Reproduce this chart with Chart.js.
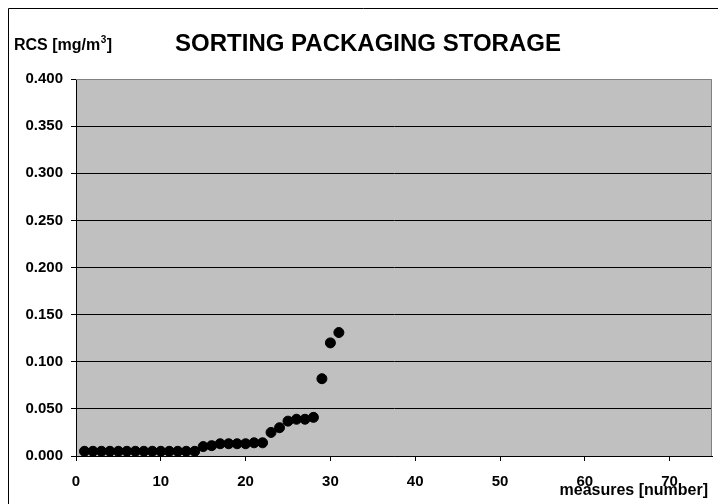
<!DOCTYPE html>
<html>
<head>
<meta charset="utf-8">
<script src="https://cdn.jsdelivr.net/npm/chart.js@4.4.1/dist/chart.umd.min.js"></script>
<style>
  html, body { margin: 0; padding: 0; background: #fff; }
  #wrap { position: relative; width: 718px; height: 504px; overflow: hidden; }
</style>
</head>
<body>
<div id="wrap">
  <canvas id="myChart" width="718" height="504"></canvas>
</div>
<script>
const measureNo = [1, 2, 3, 4, 5, 6, 7, 8, 9, 10, 11, 12, 13, 14, 15, 16, 17, 18, 19, 20, 21, 22, 23, 24, 25, 26, 27, 28, 29, 30, 31];
const rcsValues = [0.005, 0.005, 0.005, 0.005, 0.005, 0.005, 0.005, 0.005, 0.005, 0.005, 0.005, 0.005, 0.005, 0.005,
  0.010, 0.011, 0.013, 0.013, 0.013, 0.013, 0.014, 0.014, 0.025, 0.030, 0.037, 0.039, 0.039, 0.041, 0.082, 0.120, 0.131];
const chartTitle = 'SORTING PACKAGING STORAGE';
const yTitle = ['RCS [mg/m', '3', ']'];
const xTitle = 'measures [number]';

const FONT = "Arial, 'Liberation Sans', sans-serif";

// grey plot box + outer frame + texts
const decor = {
  id: 'decor',
  beforeDraw(chart) {
    const { ctx, chartArea: a } = chart;
    ctx.save();
    ctx.fillStyle = '#fff';
    ctx.fillRect(0, 0, chart.width, chart.height);
    ctx.fillStyle = '#c0c0c0';
    ctx.fillRect(a.left, a.top, a.right - a.left, a.bottom - a.top);
    ctx.restore();
  },
  beforeDatasetsDraw(chart) {
    const { ctx, chartArea: a } = chart;
    ctx.save();
    ctx.strokeStyle = '#808080';
    ctx.lineWidth = 1;
    ctx.beginPath();
    ctx.moveTo(a.left, a.top + 0.5);
    ctx.lineTo(a.right - 0.5, a.top + 0.5);
    ctx.lineTo(a.right - 0.5, a.bottom);
    ctx.stroke();
    ctx.restore();
  },
  afterDraw(chart) {
    const { ctx } = chart;
    ctx.save();
    ctx.strokeStyle = '#000';
    ctx.lineWidth = 1;
    ctx.beginPath();
    ctx.moveTo(8.5, chart.height);
    ctx.lineTo(8.5, 8.5);
    ctx.lineTo(chart.width, 8.5);
    ctx.stroke();

    ctx.fillStyle = '#000';
    ctx.textBaseline = 'alphabetic';
    ctx.font = 'bold 24px ' + FONT;
    ctx.textAlign = 'center';
    ctx.fillText(chartTitle, 368, 51);

    // y title with superscript
    ctx.textAlign = 'left';
    let x = 14;
    ctx.font = 'bold 16px ' + FONT;
    ctx.fillText(yTitle[0], x, 50);
    x += ctx.measureText(yTitle[0]).width + 0.5;
    ctx.font = 'bold 10px ' + FONT;
    ctx.fillText(yTitle[1], x, 43);
    x += ctx.measureText(yTitle[1]).width + 0.5;
    ctx.font = 'bold 16px ' + FONT;
    ctx.fillText(yTitle[2], x, 50);

    ctx.font = 'bold 16px ' + FONT;
    ctx.textAlign = 'right';
    ctx.fillText(xTitle, 708, 495);
    ctx.restore();
  }
};

const canvas = document.getElementById('myChart');
new Chart(canvas, {
  type: 'scatter',
  data: {
    datasets: [{
      data: measureNo.map((m, i) => ({ x: m, y: rcsValues[i] })),
      backgroundColor: '#000',
      borderColor: '#000',
      borderWidth: 1,
      pointRadius: 5,
      pointHoverRadius: 5
    }]
  },
  options: {
    responsive: false,
    animation: false,
    devicePixelRatio: 1,
    layout: { padding: { left: 0, top: 79, right: 3, bottom: 0 } },
    plugins: { legend: { display: false }, tooltip: { enabled: false } },
    scales: {
      x: {
        type: 'linear',
        min: 0,
        max: 75,
        afterFit(scale) { scale.height = 48; },
        ticks: {
          stepSize: 10,
          includeBounds: false,
          maxRotation: 0,
          padding: 12,
          color: '#000',
          font: { family: FONT, size: 15, weight: 'bold' }
        },
        grid: { drawOnChartArea: false, drawTicks: true, tickLength: 5, tickColor: '#000' },
        border: { color: '#000', width: 1 }
      },
      y: {
        min: 0,
        max: 0.4,
        afterFit(scale) { scale.width = 76; },
        ticks: {
          stepSize: 0.05,
          padding: 8,
          color: '#000',
          font: { family: FONT, size: 15, weight: 'bold' },
          callback: v => v.toFixed(3)
        },
        grid: {
          color: ctx => (ctx.tick && ctx.tick.value >= 0.4 ? 'rgba(0,0,0,0)' : '#000'),
          tickColor: '#000',
          tickLength: 5,
          lineWidth: 1
        },
        border: { color: '#000', width: 1 }
      }
    }
  },
  plugins: [decor]
});
</script>
</body>
</html>
